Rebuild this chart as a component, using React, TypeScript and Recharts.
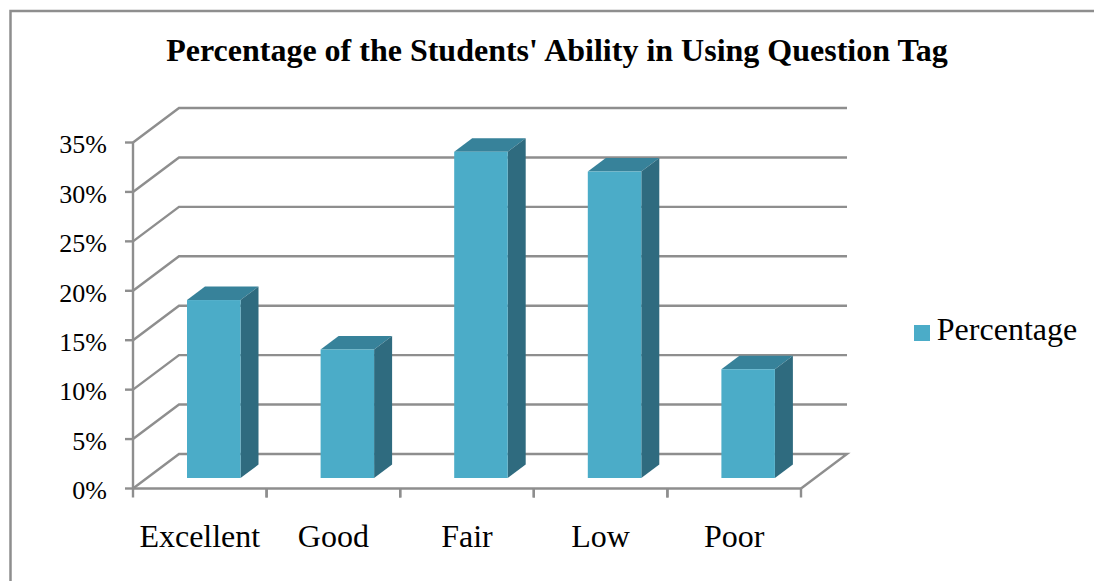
import React from "react";
import { BarChart, Bar, XAxis, YAxis, CartesianGrid, Legend } from "recharts";

const categories = ["Excellent", "Good", "Fair", "Low", "Poor"];
const percentages = [18, 13, 33, 31, 11];
const yTicks = [0, 5, 10, 15, 20, 25, 30, 35];
const seriesName = "Percentage";
const titleText = "Percentage of the Students' Ability in Using Question Tag";

const rows = categories.map((name, i) => ({ name, [seriesName]: percentages[i] }));

const SERIF = "'Liberation Serif', 'Times New Roman', serif";
const GRAY = "#8e8e8e";
const FRONT = "#4bacc8";
const SIDE = "#2f6b7f";
const TOP = "#37829a";
const WALL_DX = 46;
const WALL_DY = 34.5;
const BAR_SHIFT_X = 14;
const BAR_SHIFT_Y = 10.5;
const BAR_DX = 18;
const BAR_DY = 13.5;
const BAND_HALF = 66.8;

const Bar3D = (p: any) => {
  const x = p.x + BAR_SHIFT_X;
  const y = p.y - BAR_SHIFT_Y;
  const w = p.width;
  const h = p.height;
  return (
    <g>
      <polygon points={`${x},${y} ${x + BAR_DX},${y - BAR_DY} ${x + w + BAR_DX},${y - BAR_DY} ${x + w},${y}`} fill={TOP} />
      <polygon points={`${x + w},${y} ${x + w + BAR_DX},${y - BAR_DY} ${x + w + BAR_DX},${y + h - BAR_DY} ${x + w},${y + h}`} fill={SIDE} />
      <rect x={x} y={y} width={w} height={h} fill={FRONT} />
    </g>
  );
};

const WallLine = (p: any) => {
  const { x1, y1, x2, y2 } = p;
  const isFloor = Math.abs(y1 - 488.5) < 1;
  return (
    <g key={p.key}>
      <polyline
        points={`${x1},${y1} ${x1 + WALL_DX},${y1 - WALL_DY} ${x2 + WALL_DX},${y2 - WALL_DY}${isFloor ? ` ${x2},${y2}` : ""}`}
        fill="none"
        stroke={GRAY}
        strokeWidth={2.4}
      />
    </g>
  );
};

const XTick = (p: any) => {
  const { x, y, payload } = p;
  return (
    <g>
      <line x1={x - BAND_HALF} y1={y - 8} x2={x - BAND_HALF} y2={y + 1} stroke={GRAY} strokeWidth={2.4} />
      <line x1={x + BAND_HALF} y1={y - 8} x2={x + BAND_HALF} y2={y + 1} stroke={GRAY} strokeWidth={2.4} />
      <text x={x} y={y + 50} textAnchor="middle" fontFamily={SERIF} fontSize={32} fill="#000">
        {payload.value}
      </text>
    </g>
  );
};

export default function App() {
  return (
    <div style={{ position: "absolute", left: 0, top: 0, width: 1094, height: 581, overflow: "hidden", background: "#fff" }}>
      <BarChart
        width={1094}
        height={581}
        data={rows}
        margin={{ top: 142.5, right: 293, bottom: 42.5, left: 73 }}
        barCategoryGap={0}
      >
        <rect x={10.5} y={11} width={1200} height={700} fill="none" stroke={GRAY} strokeWidth={2.5} />
        <text x={557} y={61} textAnchor="middle" fontFamily={SERIF} fontWeight="bold" fontSize={32} fill="#000">
          {titleText}
        </text>
        <CartesianGrid horizontal={WallLine} vertical={false} />
        <XAxis
          dataKey="name"
          height={50}
          axisLine={{ stroke: GRAY, strokeWidth: 2.4 }}
          tickLine={false}
          tick={<XTick />}
          interval={0}
        />
        <YAxis
          width={60}
          domain={[0, 35]}
          ticks={yTicks}
          interval={0}
          tickFormatter={(v: number) => `${v}%`}
          axisLine={{ stroke: GRAY, strokeWidth: 2.4 }}
          tickLine={{ stroke: GRAY, strokeWidth: 2.4 }}
          tickSize={8}
          tickMargin={18}
          tick={{ fontFamily: SERIF, fontSize: 26, fill: "#000", dy: 1.5 }}
        />
        <Legend
          layout="horizontal"
          align="center"
          verticalAlign="middle"
          iconType="square"
          iconSize={16}
          wrapperStyle={{ position: "absolute", left: 913, top: 310, width: 175, fontFamily: SERIF, fontSize: 32, lineHeight: "38px", margin: 0, padding: 0, textAlign: "left" }}
          formatter={(v: string) => <span style={{ color: "#000", marginLeft: 3 }}>{v}</span>}
        />
        <Bar dataKey={seriesName} fill={FRONT} barSize={53.5} isAnimationActive={false} shape={<Bar3D />} />
      </BarChart>
    </div>
  );
}
